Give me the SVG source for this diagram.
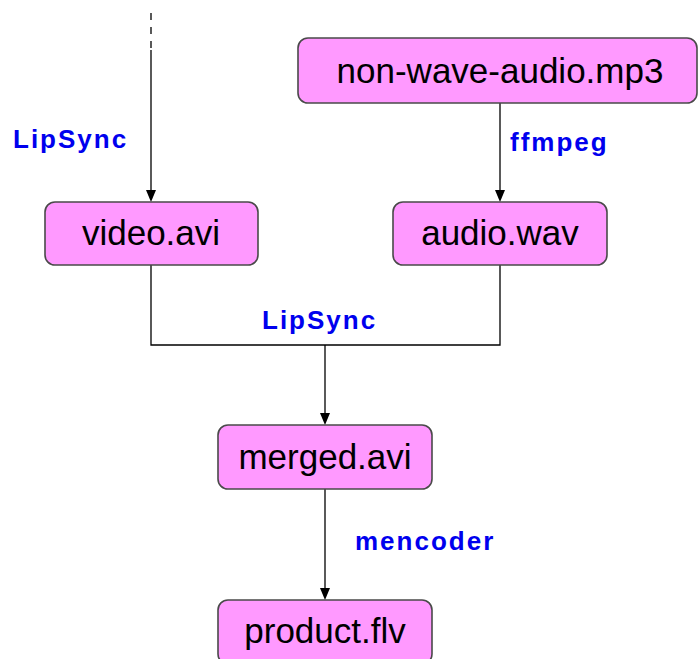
<svg xmlns="http://www.w3.org/2000/svg" width="698" height="659" viewBox="0 0 698 659">
<style>
.node rect{fill:#FF99FF;stroke:#4a4a4a;stroke-width:1.6}
.node text{font-family:"Liberation Sans",Arial,sans-serif;font-size:35px;fill:#000;text-anchor:middle}
.lbl{font-family:"Liberation Sans",Arial,sans-serif;font-size:26px;font-weight:bold;fill:#0000EE;letter-spacing:2px}
.edge{fill:none;stroke:#000;stroke-width:1.3}
</style>
<rect width="698" height="659" fill="#fff"/>
<g id="connectors">
<path class="edge" d="M151,13 V50" stroke-dasharray="7,7"/>
<path class="edge" d="M151,50 V190"/>
<path d="M146,190 L156,190 L151,202 Z" fill="#000"/>
<path class="edge" d="M500,103 V190"/>
<path d="M495,190 L505,190 L500,202 Z" fill="#000"/>
<path class="edge" d="M151,265 V345 H500 V265"/>
<path class="edge" d="M325,345 V413"/>
<path d="M320,413 L330,413 L325,425 Z" fill="#000"/>
<path class="edge" d="M325,489 V588"/>
<path d="M320,588 L330,588 L325,600 Z" fill="#000"/>
<text class="lbl" x="13" y="148">LipSync</text>
<text class="lbl" x="510" y="151">ffmpeg</text>
<text class="lbl" x="262" y="329">LipSync</text>
<text class="lbl" x="355" y="550">mencoder</text>
</g>
<g id="node-mp3" class="node">
<rect x="298" y="38" width="399" height="65" rx="10"/>
<text x="500" y="83">non-wave-audio.mp3</text>
</g>
<g id="node-video" class="node">
<rect x="45" y="202" width="213" height="63" rx="10"/>
<text x="151" y="245">video.avi</text>
</g>
<g id="node-audio" class="node">
<rect x="393" y="202" width="214" height="63" rx="10"/>
<text x="500" y="245">audio.wav</text>
</g>
<g id="node-merged" class="node">
<rect x="218" y="425" width="214" height="64" rx="10"/>
<text x="325" y="469">merged.avi</text>
</g>
<g id="node-product" class="node">
<rect x="218" y="600" width="214" height="64" rx="10"/>
<text x="325" y="643">product.flv</text>
</g>
</svg>
